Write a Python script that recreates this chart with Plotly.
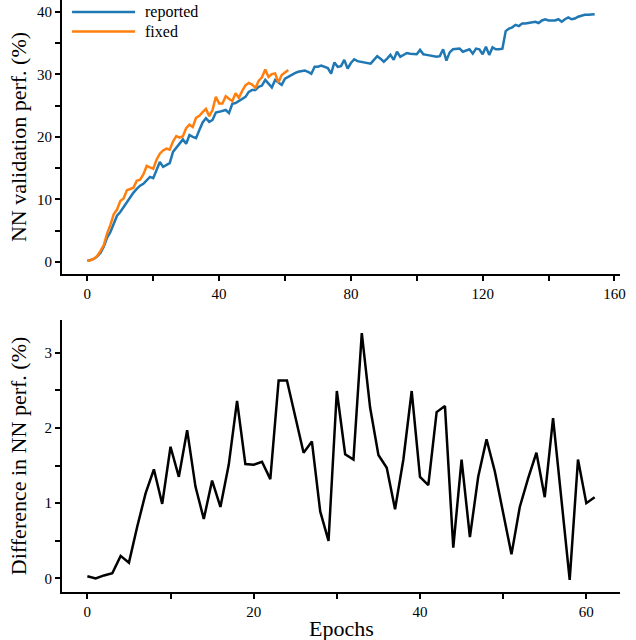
import plotly.graph_objects as go
from plotly.subplots import make_subplots

# epochs
epochs_reported = list(range(155))
epochs_fixed = list(range(62))

# NN validation perf. (%) - original run
reported = [
    0.2, 0.3, 0.5, 0.9, 1.5, 2.5, 3.9, 4.8, 6.2, 7.4,
    8.0, 8.8, 9.5, 10.5, 11.1, 11.7, 12.2, 12.5, 13.0, 13.6,
    13.4, 14.8, 16.0, 15.2, 15.5, 15.8, 17.6, 18.3, 19.0, 19.6,
    18.9, 20.3, 20.0, 19.8, 21.1, 22.3, 23.0, 22.4, 22.7, 23.9,
    24.0, 24.1, 24.3, 23.8, 25.3, 25.4, 25.7, 26.0, 26.4, 27.2,
    27.5, 27.5, 28.0, 28.2, 29.1, 28.5, 27.9, 29.1, 28.7, 28.3,
    29.3, 29.6, 30.0, 30.2, 30.4, 30.5, 30.6, 30.4, 30.1, 31.2,
    31.2, 31.4, 31.2, 31.0, 30.1, 31.9, 31.2, 31.3, 32.3, 30.9,
    31.8, 32.4, 32.1, 32.0, 31.9, 31.8, 31.7, 32.3, 32.9, 32.5,
    32.0, 32.5, 33.1, 32.3, 33.6, 32.8, 33.1, 33.4, 33.3, 33.2,
    33.2, 33.9, 33.2, 33.1, 33.0, 32.8, 32.8, 32.9, 34.0, 32.2,
    33.5, 34.0, 34.1, 34.1, 33.6, 33.8, 34.0, 33.3, 34.1, 34.0,
    33.2, 34.4, 33.1, 34.3, 34.0, 34.0, 34.1, 36.9, 37.3, 37.5,
    37.9, 37.7, 38.1, 38.1, 38.2, 38.3, 38.4, 38.2, 38.6, 38.8,
    38.6, 38.6, 38.6, 38.8, 38.4, 38.8, 39.1, 38.8, 38.9, 39.2,
    39.4, 39.5, 39.5, 39.5, 39.6,
]

# NN validation perf. (%) - fixed run
fixed = [
    0.23, 0.30, 0.54, 0.97, 1.80, 2.71, 4.59, 5.93, 7.65, 8.39,
    9.75, 10.15, 11.47, 11.72, 11.89, 13.00, 13.15, 14.01, 15.36, 15.12,
    14.91, 16.35, 17.32, 17.83, 18.13, 17.95, 19.27, 20.12, 19.89, 20.10,
    21.39, 21.95, 21.58, 23.06, 23.37, 23.94, 24.47, 23.32, 24.28, 26.39,
    25.35, 25.34, 26.51, 26.09, 25.71, 26.98, 26.25, 27.35, 28.25, 28.62,
    28.37, 27.82, 28.95, 29.53, 30.77, 29.58, 30.03, 30.15, 28.68, 29.88,
    30.30, 30.68,
]

# Difference in NN perf. (%)
difference = [
    0.03, 0.00, 0.04, 0.07, 0.30, 0.21, 0.69, 1.13, 1.45, 0.99,
    1.75, 1.35, 1.97, 1.22, 0.79, 1.30, 0.95, 1.51, 2.36, 1.52,
    1.51, 1.55, 1.32, 2.63, 2.63, 2.15, 1.67, 1.82, 0.89, 0.50,
    2.49, 1.65, 1.58, 3.26, 2.27, 1.64, 1.47, 0.92, 1.58, 2.49,
    1.35, 1.24, 2.21, 2.29, 0.41, 1.58, 0.55, 1.35, 1.85, 1.42,
    0.87, 0.32, 0.95, 1.33, 1.67, 1.08, 2.13, 1.05, -0.02, 1.58,
    1.00, 1.08,
]

top_xticks = list(range(0, 161, 20))
top_xlabels = [str(v) if v % 40 == 0 else "" for v in top_xticks]
top_yticks = list(range(0, 41, 5))
top_ylabels = [str(v) if v % 10 == 0 else "" for v in top_yticks]
bot_xticks = list(range(0, 61, 10))
bot_xlabels = [str(v) if v % 20 == 0 else "" for v in bot_xticks]
bot_yticks = [0, 0.5, 1, 1.5, 2, 2.5, 3]
bot_ylabels = ["0", "", "1", "", "2", "", "3"]

BLUE = "#1f77b4"
ORANGE = "#ff7f0e"
FONT = "Liberation Serif"

fig = make_subplots(rows=2, cols=1)

fig.add_trace(go.Scatter(x=epochs_reported, y=reported, mode="lines", name="reported",
                         line=dict(color=BLUE, width=2.5)), row=1, col=1)
fig.add_trace(go.Scatter(x=epochs_fixed, y=fixed, mode="lines", name="fixed",
                         line=dict(color=ORANGE, width=2.5)), row=1, col=1)
fig.add_trace(go.Scatter(x=epochs_fixed, y=difference, mode="lines",
                         line=dict(color="black", width=2.5)), row=2, col=1)

axis_style = dict(showline=True, linecolor="black", linewidth=2, mirror=False,
                  showgrid=False, zeroline=False, ticks="outside", ticklen=5,
                  tickwidth=2, tickcolor="black", automargin=False,
                  tickfont=dict(family=FONT, size=15, color="black"))

fig.update_xaxes(**axis_style)
fig.update_yaxes(**axis_style)

fig.update_xaxes(range=[-7.7, 161.7], tickmode="array", tickvals=top_xticks,
                 ticktext=top_xlabels, row=1, col=1)
fig.update_yaxes(range=[-1.92, 41.87], tickmode="array", tickvals=top_yticks,
                 ticktext=top_ylabels, row=1, col=1)
fig.update_xaxes(range=[-3.05, 64.05], tickmode="array", tickvals=bot_xticks,
                 ticktext=bot_xlabels, row=2, col=1)
fig.update_yaxes(range=[-0.18, 3.43], tickmode="array", tickvals=bot_yticks,
                 ticktext=bot_ylabels, row=2, col=1)

fig.update_layout(
    xaxis=dict(domain=[0, 1]),
    xaxis2=dict(domain=[0, 1]),
    yaxis=dict(domain=[0.537, 1.0]),
    yaxis2=dict(domain=[0.0, 0.459]),
)

title_font = dict(family=FONT, size=22, color="black")
# axis titles
fig.add_annotation(xref="paper", yref="y domain", x=0, y=0.5, xshift=-44,
                   text="NN validation perf. (%)", textangle=-90, showarrow=False,
                   xanchor="center", yanchor="middle", font=title_font)
fig.add_annotation(xref="paper", yref="y2 domain", x=0, y=0.5, xshift=-44,
                   text="Difference in NN perf. (%)", textangle=-90, showarrow=False,
                   xanchor="center", yanchor="middle", font=title_font)
fig.add_annotation(xref="x2 domain", yref="paper", x=0.5, y=0, yshift=-36,
                   text="Epochs", showarrow=False,
                   xanchor="center", yanchor="middle", font=title_font)

# legend drawn in the top axes
legend_items = [("reported", BLUE, 0.956), ("fixed", ORANGE, 0.885)]
for label, color, ypos in legend_items:
    fig.add_shape(type="line", xref="x domain", yref="y domain", x0=0.018, x1=0.131,
                  y0=ypos, y1=ypos, line=dict(color=color, width=2.5))
    fig.add_annotation(xref="x domain", yref="y domain", x=0.145, y=ypos, text=label,
                       showarrow=False, xanchor="left", yanchor="middle",
                       font=dict(family=FONT, size=16, color="black"))

fig.update_layout(
    width=636, height=640,
    margin=dict(l=62, r=16, t=0, b=48),
    paper_bgcolor="white", plot_bgcolor="white",
    font=dict(family=FONT, color="black"),
    showlegend=False,
)

# drop the browser's default page margin so the figure sits at the window corner
fig.write_html("out.html", config={"displayModeBar": False},
               post_script="document.body.style.margin = '0';")
